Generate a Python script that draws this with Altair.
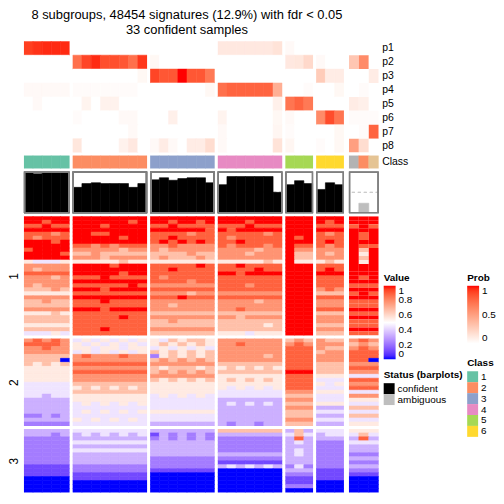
import altair as alt
import pandas as pd

FONT = "Liberation Sans"

# ---------------- data ----------------
group_sizes = [5, 8, 7, 7, 3, 3, 3]
group_widths = [46, 75, 65, 65, 28, 28, 30]
block_names = ["1", "2", "3"]
block_heights = [120, 88, 64]
SIL_H = 42

sample_ids = [f"s{i:02d}" for i in range(1, 37)]
class_labels = ["1"] * 5 + ["2"] * 8 + ["3"] * 7 + ["4"] * 7 + ["5"] * 3 + ["6"] * 3 + ["8", "2", "7"]
status_labels = ["confident"] * 33 + ["ambiguous"] * 3
silhouette = [0.97, 0.945, 0.97, 0.97, 0.97,
              0.62, 0.71, 0.73, 0.71, 0.71, 0.71, 0.62, 0.71,
              0.80, 0.85, 0.79, 0.83, 0.85, 0.85, 0.73,
              0.685, 0.88, 0.88, 0.88, 0.88, 0.88, 0.50,
              0.685, 0.78, 0.71,
              0.57, 0.73, 0.685,
              0.0, 0.24, 0.0]

prob_names = ["p1", "p2", "p3", "p4", "p5", "p6", "p7", "p8"]
p1 = [0.90, 0.93, 0.95, 0.95, 0.95, 0, 0, 0, 0, 0, 0, 0, 0, 0, 0, 0, 0, 0, 0, 0,
      0.12, 0.12, 0.12, 0.12, 0.12, 0.12, 0.15, 0.03, 0, 0, 0, 0, 0, 0, 0, 0]
p2 = [0, 0, 0, 0, 0, 0.72, 0.88, 0.95, 0.85, 0.85, 0.82, 0.72, 0.92, 0.04, 0, 0, 0, 0, 0, 0,
      0, 0, 0, 0, 0, 0, 0, 0.12, 0.13, 0.20, 0.03, 0, 0, 0.30, 0.60, 0]
p3 = [0, 0, 0, 0, 0, 0, 0, 0, 0, 0, 0, 0, 0.04, 0.88, 0.82, 0.82, 1.0, 0.82, 0.82, 0.68,
      0, 0, 0, 0, 0, 0, 0, 0, 0, 0, 0.27, 0.10, 0.10, 0, 0, 0.10]
p4 = [0.03, 0.03, 0.03, 0.03, 0.03, 0.02, 0.02, 0.02, 0.02, 0.02, 0.02, 0.02, 0, 0, 0, 0, 0, 0, 0, 0.04,
      0.72, 0.77, 0.77, 0.77, 0.77, 0.77, 0.42, 0, 0, 0.02, 0, 0, 0.04, 0, 0.02, 0]
p5 = [0, 0.03, 0, 0, 0, 0, 0.06, 0, 0.07, 0.07, 0, 0, 0, 0, 0, 0, 0, 0, 0, 0,
      0, 0, 0, 0, 0, 0, 0.08, 0.70, 0.77, 0.68, 0, 0, 0, 0.10, 0.08, 0]
p6 = [0, 0, 0, 0, 0, 0.02, 0, 0, 0, 0, 0.03, 0.03, 0, 0, 0, 0.08, 0, 0, 0, 0,
      0.06, 0, 0, 0, 0, 0, 0.04, 0.03, 0, 0, 0.60, 0.86, 0.70, 0.02, 0.02, 0.02]
p7 = [0, 0, 0, 0, 0, 0, 0, 0, 0, 0, 0, 0.03, 0, 0, 0, 0, 0, 0, 0, 0,
      0.03, 0, 0, 0, 0, 0, 0.05, 0.02, 0, 0, 0, 0, 0.04, 0, 0.02, 0.77]
p8 = [0, 0, 0, 0, 0, 0.13, 0, 0, 0, 0, 0.07, 0.12, 0, 0.03, 0.10, 0.03, 0, 0.10, 0.10, 0.18,
      0.03, 0, 0, 0, 0, 0, 0.15, 0.05, 0, 0, 0.02, 0, 0.04, 0.50, 0.18, 0]
prob_values = [p1, p2, p3, p4, p5, p6, p7, p8]

# main heatmap, one string per row, digit d -> value d/9 (column groups separated by spaces)
block1_rows = [
    "99999 99999999 9999999 9999999 999 999 999",
    "99899 99999989 9989989 9998999 999 989 999",
    "88988 99989999 8898888 8889888 999 888 898",
    "99999 99999999 9999998 9899999 999 999 999",
    "88878 99889999 8888788 8888878 999 878 989",
    "87888 99999899 8898888 8788888 989 888 989",
    "99989 99999999 8989898 8898888 999 898 999",
    "99999 88787888 7787777 8788878 988 878 988",
    "89999 77777677 7677777 7777677 977 777 969",
    "99998 66766666 6666766 7776777 966 767 959",
    "99999 77767777 6766676 7777777 966 777 969",
    "54445 55555655 5555555 5555565 955 565 959",
    "77777 99998999 8888898 8898888 999 888 999",
    "76777 99999999 8898888 8888988 999 898 999",
    "88888 99999899 8888888 9989999 999 999 999",
    "77767 88898888 8788888 8888888 999 888 989",
    "77777 99999999 8888788 8888888 999 888 999",
    "76777 88888898 7777777 8887888 999 888 888",
    "66676 99989999 8888888 8888888 999 787 999",
    "55555 88888888 7777677 7777777 999 666 898",
    "77777 99999999 8889888 8888888 999 888 999",
    "66766 88898888 7777777 7777677 999 777 888",
    "66666 88888888 7767777 7777777 999 777 888",
    "77777 99989999 7777777 7787777 999 888 999",
    "55565 88888888 6666666 6666666 999 666 888",
    "66666 88888988 7777777 7767777 999 777 999",
    "66666 88888888 6676666 6666666 999 777 888",
    "55555 88888888 6666666 6666656 999 666 888",
    "66666 88898888 7777777 6666666 999 777 999",
    "44454 88888888 6666666 5554555 999 666 888",
]
block2_rows = [
    "78787 45454545 5465665 7777777 676 766 787",
    "88887 54545454 5656565 7787777 787 777 676",
    "77877 55455455 4545454 7777777 888 766 787",
    "77777 45454545 6565656 7777777 888 677 888",
    "66666 78777877 2565656 7777767 888 777 888",
    "66660 77777777 6767676 7777777 888 777 880",
    "65656 88888888 7777777 6666666 888 666 777",
    "55555 77777777 6566656 5656565 888 666 888",
    "55555 88888888 6767676 6666666 999 666 777",
    "55555 77777777 7777777 5555555 888 555 444",
    "55555 77777777 6565656 5656565 888 444 888",
    "44444 66666666 5555555 5555555 888 545 777",
    "44444 56565656 5555555 5454545 888 444 888",
    "44444 66666666 5555555 4444444 777 555 444",
    "44344 55555555 4545454 4444444 666 444 777",
    "33333 55555555 4444444 3333333 777 444 555",
    "33333 45454545 4444444 3434343 666 555 444",
    "33333 44444444 4444444 3333333 777 333 666",
    "33333 45454545 5555555 3333333 666 444 444",
    "22323 44444444 4444444 3333333 666 333 666",
    "33333 54545454 4444444 3333333 777 444 444",
    "22222 44444444 3333333 3233233 666 333 555",
]
block3_rows = [
    "33333 44444444 3333333 6666666 363 444 555",
    "33323 34343434 1323232 3333333 464 344 464",
    "22222 33333333 2323232 2222222 383 333 383",
    "22222 44444444 3333333 2222222 343 222 444",
    "22222 33333333 3333333 2222222 333 222 333",
    "22222 44444444 3333333 2222222 343 222 333",
    "22222 33333333 3333333 3333333 343 222 222",
    "22222 33333333 2222222 2222222 333 222 333",
    "22222 33333333 2222222 1111111 333 222 222",
    "11111 22222222 2222222 3434343 242 222 333",
    "11111 22222222 1111111 0000000 333 111 222",
    "11111 11111111 0000000 0000000 222 111 111",
    "00000 11111111 0000000 0000000 111 111 000",
    "00000 00000000 0000000 0000000 111 000 000",
    "00000 00000000 0000000 0000000 222 000 000",
    "00000 00000000 0000000 0000000 000 000 000",
]
block_rows = [block1_rows, block2_rows, block3_rows]

title_line1 = "8 subgroups, 48454 signatures (12.9%) with fdr < 0.05"
title_line2 = "33 confident samples"
set2 = ["#66C2A5", "#FC8D62", "#8DA0CB", "#E78AC3", "#A6D854", "#FFD92F", "#E5C494", "#B3B3B3"]
class_domain = ["1", "2", "3", "4", "5", "6", "7", "8"]

# ---------------- tables ----------------
group_of = []
for g, n in enumerate(group_sizes):
    group_of += [g] * n

samples = pd.DataFrame({"sample": sample_ids, "group": group_of, "cls": class_labels,
                        "status": status_labels, "sil": silhouette})
samples["cls_edge"] = samples["cls"]
samples["status_edge"] = samples["status"]
samples["ref"] = 0.5
samples["lab"] = "Class"

prob_recs = []
for pname, vals in zip(prob_names, prob_values):
    for sid, g, v in zip(sample_ids, group_of, vals):
        prob_recs.append({"prob": pname, "sample": sid, "group": g, "p": v, "p_edge": v})
prob_df = pd.DataFrame(prob_recs)

main_recs = []
for b, rows in enumerate(block_rows):
    for ri, s in enumerate(rows):
        digits = s.replace(" ", "")
        for ci, ch in enumerate(digits):
            v = int(ch) / 9
            main_recs.append({"block": b, "row": ri, "sample": sample_ids[ci],
                              "group": group_of[ci], "value": v, "value_edge": v})
main_df = pd.DataFrame(main_recs)

# ---------------- scales / legends ----------------
value_scale = alt.Scale(domain=[0, 0.5, 1], range=["#0000FF", "#FFFFFF", "#FF0000"], interpolate="lab")
prob_scale = alt.Scale(domain=[0, 1], range=["#FFFFFF", "#FF0000"], interpolate="lab")
class_scale = alt.Scale(domain=class_domain, range=set2)
status_scale = alt.Scale(domain=["confident", "ambiguous"], range=["#000000", "#BEBEBE"])
sil_scale = alt.Scale(domain=[0, 1])

leg_common = dict(orient="none", titleFontSize=10, labelFontSize=10, titleFont=FONT,
                  labelFont=FONT, titleFontWeight="bold", titleColor="black", labelColor="black",
                  titlePadding=3, labelOverlap=False)

value_legend = alt.Legend(title="Value", type="gradient", legendX=35, legendY=57, direction="vertical",
                          gradientLength=74, gradientThickness=12, values=[0, 0.2, 0.4, 0.6, 0.8, 1],
                          format="~g", gradientStrokeWidth=0, labelOffset=3, **leg_common)
prob_legend = alt.Legend(title="Prob", type="gradient", legendX=119, legendY=233, direction="vertical",
                         gradientLength=58, gradientThickness=12, values=[0, 0.5, 1],
                         format="~g", gradientStrokeWidth=0, labelOffset=3, **leg_common)
class_legend = alt.Legend(title="Class", legendX=119, legendY=204, values=["1", "2", "3", "4", "5", "6"],
                          symbolType="square", symbolSize=121, symbolStrokeWidth=0, rowPadding=0,
                          symbolOpacity=1, labelOffset=3, **leg_common)
status_legend = alt.Legend(title="Status (barplots)", legendX=35, legendY=200,
                           symbolType="square", symbolSize=121, symbolStrokeWidth=0, rowPadding=0,
                           symbolOpacity=1, labelOffset=3, **leg_common)

xband = alt.Scale(paddingInner=0, paddingOuter=0)
SEAM = 0.6
LAST = len(group_sizes) - 1


def prob_panel(g):
    last = g == LAST
    df = prob_df[prob_df.group == g]
    yaxis = alt.Axis(orient="right", ticks=False, domain=False, labelPadding=3, labelFontSize=10.5,
                     labelFont=FONT, labelColor="black", title=None) if last else None
    enc = dict(
        x=alt.X("sample:N", axis=None, sort=sample_ids, scale=xband),
        y=alt.Y("prob:N", axis=yaxis, sort=prob_names),
        color=alt.Color("p:Q", scale=prob_scale, legend=prob_legend if last else None),
    )
    if not last:
        enc["stroke"] = alt.Stroke("p_edge:Q", scale=prob_scale, legend=None)
    return alt.Chart(df).mark_rect(strokeWidth=SEAM, clip=True).encode(**enc).properties(
        width=group_widths[g], height=112)


def class_panel(g):
    last = g == LAST
    df = samples[samples.group == g]
    yaxis = alt.Axis(orient="right", ticks=False, domain=False, labelPadding=3, labelFontSize=10.5,
                     labelFont=FONT, labelColor="black", title=None) if last else None
    return alt.Chart(df).mark_rect(strokeWidth=SEAM, clip=True).encode(
        x=alt.X("sample:N", axis=None, sort=sample_ids, scale=xband),
        y=alt.Y("lab:N", axis=yaxis),
        color=alt.Color("cls:N", scale=class_scale, legend=class_legend if last else None),
        stroke=alt.Stroke("cls_edge:N", scale=class_scale, legend=None),
    ).properties(width=group_widths[g], height=13)


def sil_panel(g):
    last = g == LAST
    w = group_widths[g]
    df = samples[samples.group == g]
    yaxis = alt.Axis(orient="right", values=[0, 0.5, 1], format="~g", tickSize=3, labelFontSize=7.5,
                     labelPadding=2, labelFont=FONT, labelColor="black", domainColor="black",
                     tickColor="black", grid=False, title=["Silhouette", "score"], titleAngle=0,
                     titleAlign="left", titleBaseline="middle", titleX=14, titleY=15,
                     titleFontSize=10, titleFontWeight="normal", titleFont=FONT,
                     titleColor="black", titleLineHeight=11) if last else None
    base = alt.Chart(df)
    rule = base.mark_rule(strokeDash=[3, 3], color="#CCCCCC", strokeWidth=1, clip=True).encode(
        y=alt.Y("ref:Q", scale=sil_scale, axis=None))
    bars = base.mark_bar(strokeWidth=SEAM, clip=True).encode(
        x=alt.X("sample:N", axis=None, sort=sample_ids, scale=xband),
        y=alt.Y("sil:Q", scale=sil_scale, axis=yaxis),
        color=alt.Color("status:N", scale=status_scale, legend=status_legend if last else None),
        stroke=alt.Stroke("status_edge:N", scale=status_scale, legend=None),
    )
    box = base.mark_rect(fill="transparent", stroke="#7F7F7F", strokeWidth=2.6, clip=True).encode(
        x=alt.value(0), x2=alt.value(w), y=alt.value(0), y2=alt.value(SIL_H))
    return alt.layer(rule, bars, box).properties(width=w, height=SIL_H)


def main_panel(g, b):
    last = g == LAST
    df = main_df[(main_df.group == g) & (main_df.block == b)]
    yaxis = None
    if g == 0:
        yaxis = alt.Axis(title=block_names[b], labels=False, ticks=False, domain=False,
                         titlePadding=3, titleFontSize=12, titleFont=FONT, titleFontWeight="normal",
                         titleColor="black", titleAngle=-90)
    has_legend = last and b == 0
    enc = dict(
        x=alt.X("sample:N", axis=None, sort=sample_ids, scale=xband),
        y=alt.Y("row:O", axis=yaxis),
        color=alt.Color("value:Q", scale=value_scale, legend=value_legend if has_legend else None),
    )
    if not has_legend:
        enc["stroke"] = alt.Stroke("value_edge:Q", scale=value_scale, legend=None)
    return alt.Chart(df).mark_rect(strokeWidth=SEAM, clip=True).encode(**enc).properties(
        width=group_widths[g], height=block_heights[b])


def column(g):
    parts = [prob_panel(g), class_panel(g), sil_panel(g)] + [main_panel(g, b) for b in range(3)]
    return alt.vconcat(*parts, spacing=3, bounds="flush").resolve_scale(
        color="independent", stroke="independent")


inner = alt.hconcat(*[column(g) for g in range(6)], spacing=3).resolve_scale(
    color="independent", stroke="independent")

chart = alt.hconcat(inner, column(6), spacing=5).resolve_scale(
    color="independent", stroke="independent"
).properties(
    title=alt.TitleParams(title_line1, subtitle=title_line2, anchor="start", align="center",
                          dx=164, frame="group", fontSize=13, font=FONT, fontWeight="normal",
                          color="black", subtitleFontSize=13, subtitleFont=FONT,
                          subtitleColor="black", subtitlePadding=2, offset=4),
    padding={"left": 0, "top": 0, "right": 0, "bottom": 0},
).configure_view(strokeWidth=0).configure_axis(labelFont=FONT, titleFont=FONT)

chart.save("out.html", embed_options={"renderer": "svg", "actions": False})
